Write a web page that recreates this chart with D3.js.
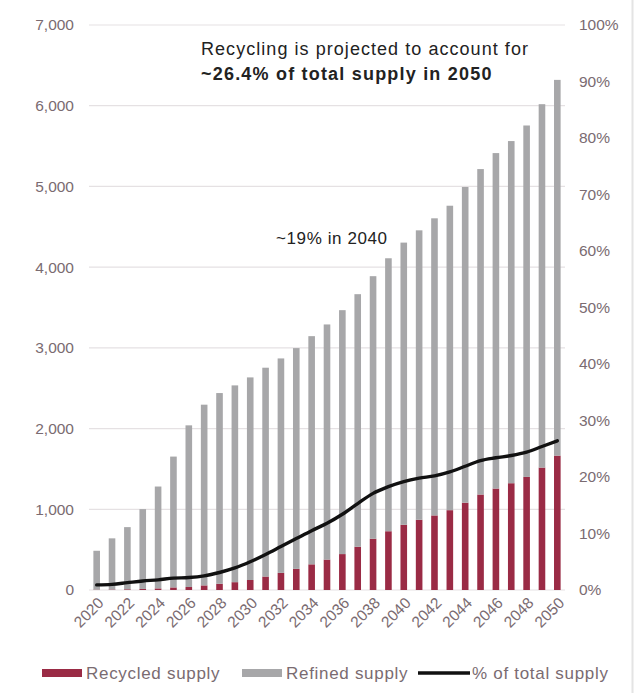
<!DOCTYPE html>
<html>
<head>
<meta charset="utf-8">
<script src="https://cdn.jsdelivr.net/npm/d3@7"></script>
<style>
  html, body { margin: 0; padding: 0; background: #fff; }
  svg { display: block; font-family: "Liberation Sans", Arial, sans-serif; }
</style>
</head>
<body>
<svg id="chart" width="635" height="693"></svg>
<script>
// Years on the category axis
const years = [2020, 2021, 2022, 2023, 2024, 2025, 2026, 2027, 2028, 2029, 2030,
  2031, 2032, 2033, 2034, 2035, 2036, 2037, 2038, 2039, 2040,
  2041, 2042, 2043, 2044, 2045, 2046, 2047, 2048, 2049, 2050];

// Recycled supply (stacked at the bottom)
const recycled = [4, 6, 9, 13, 20, 32, 37, 57, 77, 97, 124,
  167, 212, 262, 318, 377, 445, 536, 635, 728, 808,
  870, 924, 989, 1082, 1183, 1257, 1323, 1401, 1517, 1665];

// Refined supply (stacked on top of recycled)
const refined = [482, 634, 770, 989, 1262, 1621, 2003, 2239, 2363, 2438, 2510,
  2587, 2657, 2735, 2827, 2913, 3022, 3129, 3253, 3382, 3496,
  3586, 3681, 3772, 3911, 4032, 4156, 4239, 4354, 4502, 4655];

// Recycled share of total supply, %
const sharePct = [0.9, 1.0, 1.3, 1.6, 1.8, 2.1, 2.2, 2.5, 3.1, 3.9, 5.0,
  6.3, 7.7, 9.1, 10.5, 11.8, 13.4, 15.3, 17.1, 18.3, 19.2,
  19.8, 20.2, 20.9, 21.9, 22.9, 23.4, 23.8, 24.4, 25.4, 26.4];

const leftTicks = [0, 1000, 2000, 3000, 4000, 5000, 6000, 7000];
const rightTicks = [0, 10, 20, 30, 40, 50, 60, 70, 80, 90, 100];
const xLabelYears = years.filter(y => y % 2 === 0);

const seriesKeys = ["recycled", "refined"];
const seriesNames = { recycled: "Recycled supply", refined: "Refined supply" };
const seriesColors = { recycled: "#9a2b45", refined: "#a7a7a9" };

const rows = years.map((yr, i) => ({ year: yr, recycled: recycled[i], refined: refined[i], share: sharePct[i] }));

const svg = d3.select("#chart");
const axisColor = "#7a6b71";

const x = d3.scaleBand().domain(years).range([89, 565]).paddingInner(0.57).paddingOuter(0.285);
const y = d3.scaleLinear().domain([0, 7000]).range([590, 25]);
const yPct = d3.scaleLinear().domain([0, 100]).range([590, 25]);

// Panel edge on the right
svg.append("line").attr("x1", 632.5).attr("x2", 632.5).attr("y1", 0).attr("y2", 693)
  .attr("stroke", "#e4e4e4").attr("stroke-width", 2);

// Gridlines
svg.append("g").selectAll("line").data(leftTicks).join("line")
  .attr("x1", 89).attr("x2", 565)
  .attr("y1", d => y(d)).attr("y2", d => y(d))
  .attr("stroke", "#e5e1e3").attr("stroke-width", 1.2);

// Left axis
const leftAxis = d3.axisLeft(y).tickValues(leftTicks).tickFormat(d3.format(",")).tickSize(0).tickPadding(0);
svg.append("g").attr("transform", "translate(74,0)").call(leftAxis)
  .call(g => g.select(".domain").remove())
  .selectAll("text").attr("fill", axisColor).style("font-size", "15.5px");

// Right axis
const rightAxis = d3.axisRight(yPct).tickValues(rightTicks).tickFormat(d => d + "%").tickSize(0).tickPadding(0);
svg.append("g").attr("transform", "translate(579,0)").call(rightAxis)
  .call(g => g.select(".domain").remove())
  .selectAll("text").attr("fill", axisColor).style("font-size", "15.5px");

// Stacked bars
const stacked = d3.stack().keys(seriesKeys)(rows);
svg.append("g").selectAll("g").data(stacked).join("g")
  .attr("fill", d => seriesColors[d.key])
  .selectAll("rect").data(d => d).join("rect")
  .attr("x", d => x(d.data.year))
  .attr("width", x.bandwidth())
  .attr("y", d => y(d[1]))
  .attr("height", d => y(d[0]) - y(d[1]));

// Share line
const line = d3.line().x(d => x(d.year) + x.bandwidth() / 2).y(d => yPct(d.share)).curve(d3.curveMonotoneX);
svg.append("path").datum(rows).attr("d", line)
  .attr("fill", "none").attr("stroke", "#111").attr("stroke-width", 3.4)
  .attr("stroke-linecap", "round").attr("stroke-linejoin", "round");

// Bottom axis labels, rotated
const bottomAxis = d3.axisBottom(x).tickValues(xLabelYears).tickSize(0).tickPadding(0);
svg.append("g").attr("transform", "translate(0,590)").call(bottomAxis)
  .call(g => g.select(".domain").remove())
  .selectAll("text")
  .attr("fill", axisColor).style("font-size", "15.5px")
  .attr("text-anchor", "end")
  .attr("dy", null).attr("y", null)
  .attr("transform", "translate(8,14) rotate(-45)");

// Annotations
const note = svg.append("text").attr("x", 201).attr("fill", "#222").style("font-size", "18px");
note.append("tspan").attr("x", 201).attr("y", 55).style("letter-spacing", "1.05px")
  .text("Recycling is projected to account for");
note.append("tspan").attr("x", 201).attr("y", 80).style("font-weight", "bold").style("letter-spacing", "1.2px")
  .text("~26.4% of total supply in 2050");

svg.append("text").attr("x", 276).attr("y", 244).attr("fill", "#222").style("font-size", "17px")
  .style("letter-spacing", "0.6px").text("~19% in 2040");

// Legend
const legend = svg.append("g").attr("transform", "translate(0,673)");
const legendText = sel => sel.attr("fill", axisColor).style("font-size", "17px").style("letter-spacing", "0.7px");
legend.append("rect").attr("x", 42).attr("y", -4).attr("width", 40).attr("height", 8).attr("fill", seriesColors.recycled);
legend.append("text").attr("x", 86).attr("y", 6).call(legendText).text(seriesNames.recycled);
legend.append("rect").attr("x", 242).attr("y", -4).attr("width", 40).attr("height", 8).attr("fill", seriesColors.refined);
legend.append("text").attr("x", 286).attr("y", 6).call(legendText).text(seriesNames.refined);
legend.append("line").attr("x1", 418).attr("x2", 470).attr("y1", 0).attr("y2", 0).attr("stroke", "#111").attr("stroke-width", 3.5);
legend.append("text").attr("x", 472).attr("y", 6).call(legendText).text("% of total supply");
</script>
</body>
</html>
